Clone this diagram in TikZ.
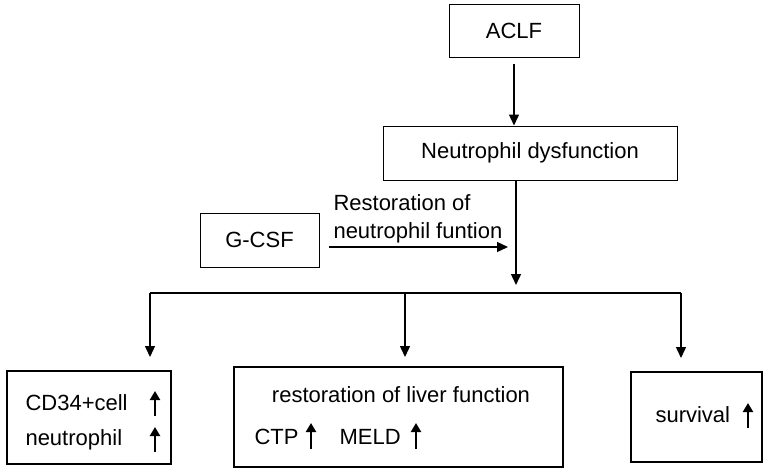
\documentclass[tikz,border=0pt]{standalone}
\usepackage{fontspec}
\setmainfont{Liberation Sans}
\usetikzlibrary{arrows.meta}
\tikzset{
  box/.style={draw, line width=1pt, inner sep=0pt},
  bigbox/.style={draw, line width=2pt, inner sep=0pt},
  arr/.style={line width=1.4pt, -{Triangle[length=11pt,width=10pt]}},
  uparr/.style={line width=2.4pt, -{Triangle[length=9pt,width=10pt]}},
  txt/.style={anchor=west}
}
\begin{document}
\begin{tikzpicture}[x=1pt,y=-1pt, font=\fontsize{22}{28}\selectfont]
        \useasboundingbox (0,0) rectangle (769,472);
        % top chain
        \node[box, minimum width=130pt, minimum height=53pt] (aclf) at (514,30.5) {ACLF};
        \node[box, minimum width=294pt, minimum height=54pt] (nd) at (530,153) {Neutrophil dysfunction};
        \node[box, minimum width=119pt, minimum height=54pt] (gcsf) at (259.5,240) {G-CSF};
        \node[txt, align=left] (rest) at (330,219) {Restoration of\\neutrophil funtion};
        \coordinate (gend) at (508,247);
        \coordinate (split) at (516,293);
        \coordinate (bl) at (150,293);
        \coordinate (bm) at (405,293);
        \coordinate (br) at (681,293);
        % outcome boxes
        \node[bigbox, minimum width=164pt, minimum height=93pt] (cd) at (89,417.5) {};
        \node[bigbox, minimum width=329pt, minimum height=100pt] (liver) at (398.5,417) {};
        \node[bigbox, minimum width=131pt, minimum height=90pt] (surv) at (696.5,417) {};
        \node[txt] (cdtxt) at (22,403) {CD34+cell};
        \node[txt] (neutxt) at (22,440) {neutrophil};
        \node (livtxt) at (401,395) {restoration of liver function};
        \node[txt] (ctp) at (251,437) {CTP};
        \node[txt] (meld) at (336,437) {MELD};
        \node[txt] (survtxt) at (652,415) {survival};
        % connectors
        \draw[arr, shorten <=6pt] (aclf.south) -- (aclf.south |- nd.north);
        \draw[arr] (nd.south -| split) -- ([yshift=8pt]split);
        \draw[arr, shorten <=9pt] (gcsf.east |- gend) -- (gend);
        \draw[line width=1.4pt] (bl) -- (br);
        \draw[arr, shorten >=13pt] (bl) -- (bl |- cd.north);
        \draw[arr, shorten >=9pt] (bm) -- (bm |- liver.north);
        \draw[arr, shorten >=13pt] (br) -- (br |- surv.north);
        % up arrows
        \draw[uparr] (155,416) -- (155,391);
        \draw[uparr] (155,452) -- (155,427);
        \draw[uparr] (311,449) -- (311,423);
        \draw[uparr] (416,449) -- (416,423);
        \draw[uparr] (748,428) -- (748,403);
\end{tikzpicture}
\end{document}
